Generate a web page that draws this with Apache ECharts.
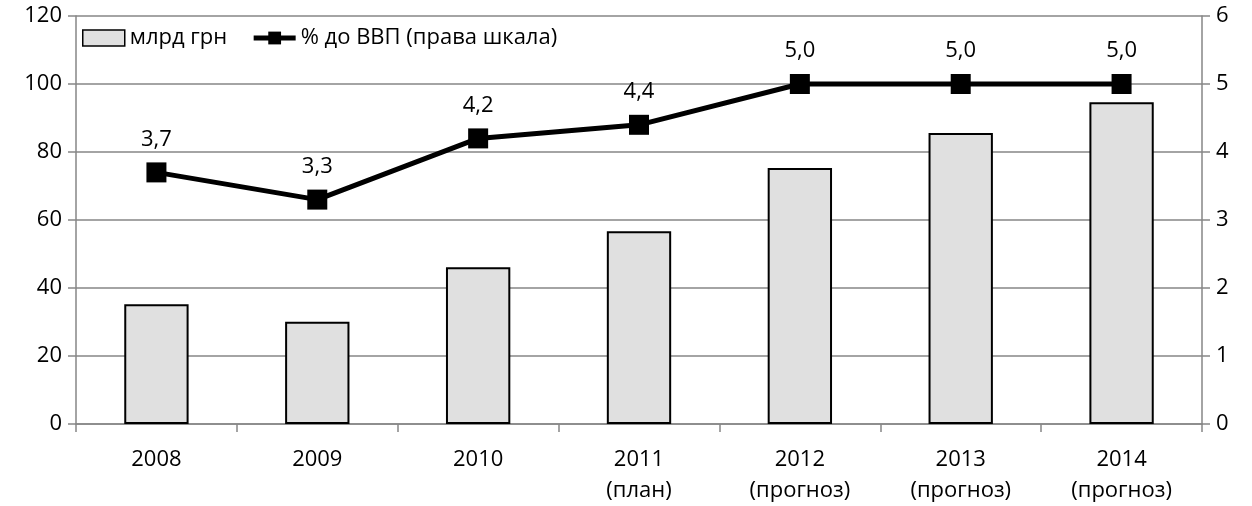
<!DOCTYPE html>
<html>
<head>
<meta charset="utf-8">
<script src="https://cdn.jsdelivr.net/npm/echarts@6/dist/echarts.min.js"></script>
<style>
  html, body { margin: 0; padding: 0; background: #fff; }
  #chart { width: 1252px; height: 506px; }
</style>
</head>
<body>
<div id="chart"></div>
<script>
const years = ['2008', '2009', '2010', '2011\n(план)', '2012\n(прогноз)', '2013\n(прогноз)', '2014\n(прогноз)']
const billionsUah = [35.2, 30.1, 46.1, 56.7, 75.3, 85.6, 94.6]
const pctOfGdp = [3.7, 3.3, 4.2, 4.4, 5.0, 5.0, 5.0]

const FONT = '"Open Sans", "DejaVu Sans", sans-serif'
const AXIS_GRAY = '#868686'
const FS = 22

const chart = echarts.init(document.getElementById('chart'), null, { renderer: 'canvas' })

chart.setOption({
  animation: false,
  backgroundColor: '#fff',
  textStyle: { fontFamily: FONT },
  grid: { left: 76, right: 50, top: 16, bottom: 81 },
  legend: {
    left: 77,
    top: 22,
    itemGap: 24,
    itemWidth: 42,
    itemHeight: 16,
    textStyle: { fontSize: FS, color: '#000', fontFamily: FONT },
    data: [
      { name: 'млрд грн', icon: 'rect', itemStyle: { borderWidth: 1.5 } },
      {
        name: '% до ВВП (права шкала)',
        itemStyle: { color: '#000' },
        lineStyle: { color: '#000', width: 5 },
      },
    ],
  },
  xAxis: {
    type: 'category',
    data: years,
    axisLine: { lineStyle: { color: AXIS_GRAY, width: 1.5 } },
    axisTick: { show: true, length: 8, lineStyle: { color: AXIS_GRAY, width: 1.5 } },
    axisLabel: { color: '#000', fontSize: FS, lineHeight: 31, margin: 20, fontFamily: FONT },
  },
  yAxis: [
    {
      type: 'value',
      min: 0,
      max: 120,
      interval: 20,
      axisLine: { show: true, lineStyle: { color: AXIS_GRAY, width: 1.5 } },
      axisTick: { show: true, length: 8, lineStyle: { color: AXIS_GRAY, width: 1.5 } },
      axisLabel: { color: '#000', fontSize: FS, margin: 14, fontFamily: FONT },
      splitLine: { lineStyle: { color: AXIS_GRAY, width: 1.5 } },
    },
    {
      type: 'value',
      min: 0,
      max: 6,
      interval: 1,
      position: 'right',
      axisLine: { show: true, lineStyle: { color: AXIS_GRAY, width: 1.5 } },
      axisTick: { show: true, length: 8, lineStyle: { color: AXIS_GRAY, width: 1.5 } },
      axisLabel: { color: '#000', fontSize: FS, margin: 14, fontFamily: FONT },
      splitLine: { show: false },
    },
  ],
  series: [
    {
      name: 'млрд грн',
      type: 'bar',
      yAxisIndex: 0,
      data: billionsUah,
      barWidth: '40%',
      itemStyle: { color: '#e0e0e0', borderColor: '#000', borderWidth: 2 },
    },
    {
      name: '% до ВВП (права шкала)',
      type: 'line',
      yAxisIndex: 1,
      data: pctOfGdp,
      symbol: 'rect',
      symbolSize: 20,
      lineStyle: { color: '#000', width: 5 },
      itemStyle: { color: '#000' },
      label: {
        show: true,
        position: 'top',
        distance: 12,
        color: '#000',
        fontSize: FS,
        fontFamily: FONT,
        formatter: p => p.value.toFixed(1).replace('.', ','),
      },
    },
  ],
})
</script>
</body>
</html>
